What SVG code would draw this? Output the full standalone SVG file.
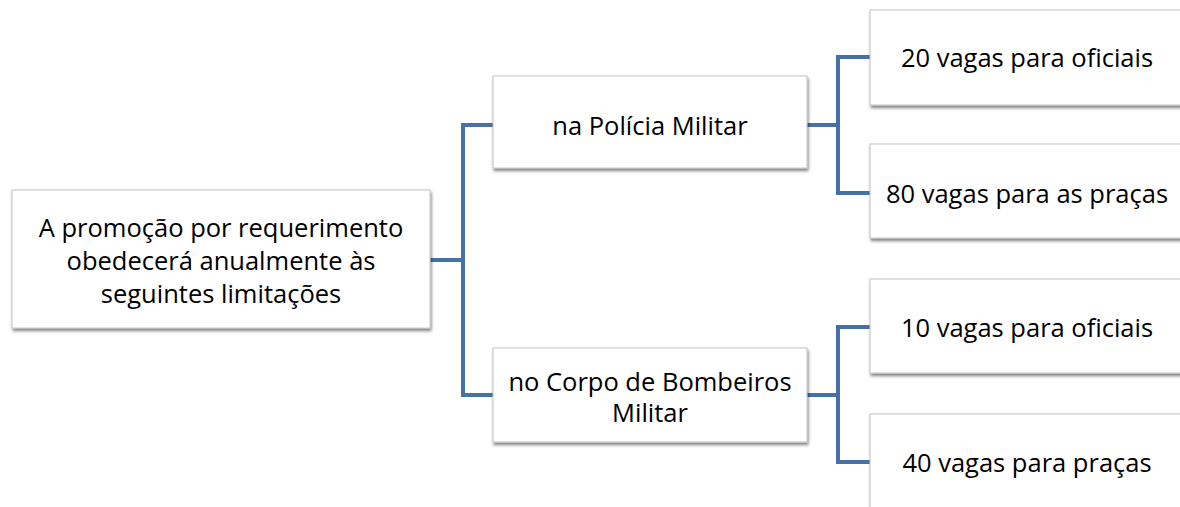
<svg xmlns="http://www.w3.org/2000/svg" width="1180" height="507" viewBox="0 0 1180 507">
<defs>
<filter id="sh" x="-5%" y="-10%" width="110%" height="125%">
<feDropShadow dx="1" dy="2.5" stdDeviation="1.6" flood-color="#000" flood-opacity="0.5"/>
</filter>
</defs>
<style>
.box{fill:#fff;stroke:#c4c4c4;stroke-width:1;filter:url(#sh)}
.t{font-family:"Open Sans","Liberation Sans",sans-serif;font-size:25.5px;fill:#000;text-anchor:middle;dominant-baseline:central}
.c{fill:none;stroke:#4671a8;stroke-width:4;stroke-linejoin:miter}
</style>
<rect width="1180" height="507" fill="#fff"/>
<g id="connectors">
<path class="c" d="M430,260 H463 M493,125 H463 V395 H493"/>
<path class="c" d="M807,125 H838 M870,57 H838 V193 H870"/>
<path class="c" d="M807,395 H838 M870,327 H838 V462 H870"/>
</g>
<g id="root">
<rect class="box" x="12" y="190" width="418" height="138"/>
<text class="t" x="221" y="227">A promoção por requerimento</text>
<text class="t" x="221" y="260">obedecerá anualmente às</text>
<text class="t" x="221" y="293">seguintes limitações</text>
</g>
<g id="pm">
<rect class="box" x="493" y="76" width="314" height="92"/>
<text class="t" x="650" y="125">na Polícia Militar</text>
</g>
<g id="cbm">
<rect class="box" x="493" y="348" width="314" height="94"/>
<text class="t" x="650" y="381">no Corpo de Bombeiros</text>
<text class="t" x="650" y="412">Militar</text>
</g>
<g id="pm-of">
<rect class="box" x="870" y="10" width="316" height="95"/>
<text class="t" x="1027" y="57">20 vagas para oficiais</text>
</g>
<g id="pm-pr">
<rect class="box" x="870" y="144" width="316" height="94"/>
<text class="t" x="1027" y="193">80 vagas para as praças</text>
</g>
<g id="cbm-of">
<rect class="box" x="870" y="279" width="316" height="94"/>
<text class="t" x="1027" y="327">10 vagas para oficiais</text>
</g>
<g id="cbm-pr">
<rect class="box" x="870" y="414" width="316" height="96"/>
<text class="t" x="1027" y="462">40 vagas para praças</text>
</g>
</svg>
